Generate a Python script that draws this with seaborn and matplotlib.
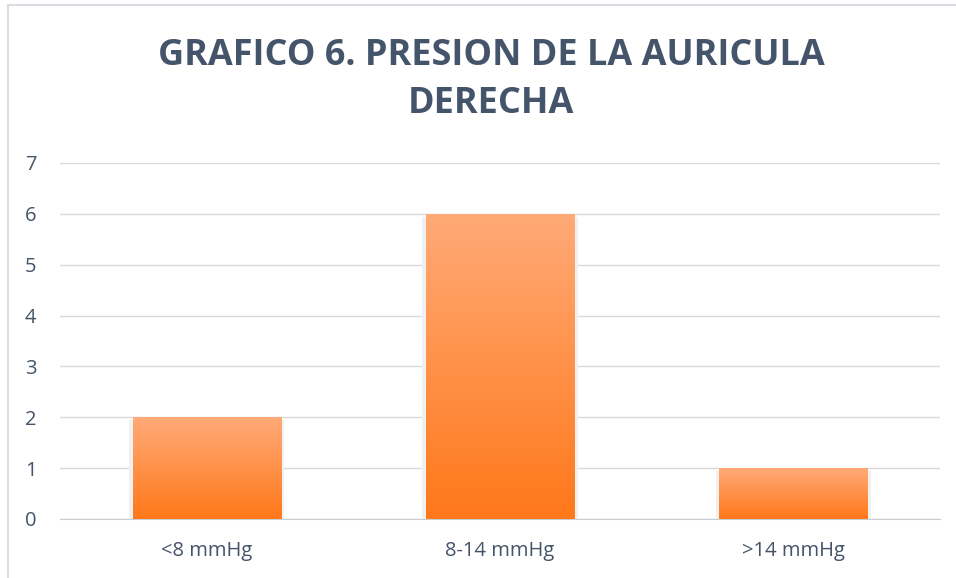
import numpy as np
import pandas as pd
import seaborn as sns
import matplotlib.pyplot as plt
from matplotlib.colors import LinearSegmentedColormap
from matplotlib.patches import Rectangle

# Data
categories = ['<8 mmHg', '8-14 mmHg', '>14 mmHg']
values = [2, 6, 1]
title = 'GRAFICO 6. PRESION DE LA AURICULA\nDERECHA'

df = pd.DataFrame({'cat': categories, 'val': values})

sns.set_style('white')
plt.rcParams['font.family'] = ['Open Sans', 'DejaVu Sans']

fig = plt.figure(figsize=(9.56, 5.78), dpi=100)
ax = fig.add_axes([60 / 956, 59 / 578, 880 / 956, 356 / 578])

sns.barplot(data=df, x='cat', y='val', color='#FF8C3A', width=0.505, ax=ax, zorder=3)

# gradient fill for each bar, with a soft shadow
cmap = LinearSegmentedColormap.from_list('og', ['#FF781A', '#FFAA78'])
grad = np.linspace(0, 1, 256).reshape(-1, 1)
for p in ax.patches:
    x0, w, h = p.get_x(), p.get_width(), p.get_height()
    ax.add_patch(Rectangle((x0 - 0.012, -0.02), w + 0.024, h - 0.04, facecolor='#F0F0F0',
                           edgecolor='none', zorder=2))
    im = ax.imshow(grad, cmap=cmap, origin='lower', aspect='auto',
                   extent=(x0, x0 + w, 0, h), zorder=4)
    im.set_clip_path(p)
    p.set_facecolor('none')

ax.set_xlim(-0.5, 2.5)
ax.set_ylim(0, 7)
ax.set_yticks(range(0, 8))
ax.grid(axis='y', color='#D9D9D9', linewidth=1, zorder=0)
ax.set_axisbelow(True)
for s in ['top', 'right', 'left']:
    ax.spines[s].set_visible(False)
ax.spines['bottom'].set_color('#C8CDD4')
ax.tick_params(axis='both', length=0, labelsize=14.5, labelcolor='#44546A')
ax.tick_params(axis='y', pad=17)
ax.tick_params(axis='x', pad=16)
ax.set_xlabel('')
ax.set_ylabel('')

fig.text(491 / 956, 0.935, title, ha='center', va='top', fontsize=25.9, fontweight='bold',
         color='#44546A', linespacing=1.45)

# chart border (left/top visible)
fig.add_artist(Rectangle((8 / 956, -0.1), 1.2, 1.1 - 5 / 578, transform=fig.transFigure,
                         facecolor='none', edgecolor='#D9DDE3', linewidth=1.5))

plt.savefig('out.png', dpi=100)
plt.close()
